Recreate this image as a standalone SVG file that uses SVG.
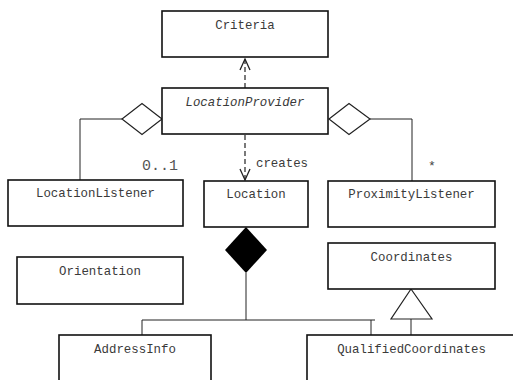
<svg xmlns="http://www.w3.org/2000/svg" width="513" height="380" viewBox="0 0 513 380">
<defs>
<style>
.box{fill:#fff;stroke:#111;stroke-width:1.6}
.t{font-family:"Liberation Mono","Courier New",monospace;font-size:12.4px;fill:#3a3a3a;text-anchor:middle}
.ln{fill:none;stroke:#222;stroke-width:1}
.dash{fill:none;stroke:#222;stroke-width:1.2;stroke-dasharray:5,3}
.open{fill:#fff;stroke:#222;stroke-width:1.2}
</style>
<marker id="arr" markerWidth="14" markerHeight="14" refX="12" refY="6" orient="auto" markerUnits="userSpaceOnUse">
<path d="M1,1 L12,6 L1,11" fill="none" stroke="#222" stroke-width="1.3"/>
</marker>
</defs>
<rect width="513" height="380" fill="#fff"/>
<g id="connectors">
<path class="dash" d="M245,88 V59" marker-end="url(#arr)"/>
<path class="dash" d="M245,135 V180" marker-end="url(#arr)"/>
<path class="ln" d="M122,119 H80 V180"/>
<polygon class="open" points="162,119 142,103.5 122,119 142,134.5"/>
<path class="ln" d="M370,119 H412 V181"/>
<polygon class="open" points="329,119 349,103.5 370,119 349,134.5"/>
<polygon points="246,227 267,250 246,273 225,250" fill="#000"/>
<path class="ln" d="M246,273 V320 M142,320 H375 M142,320 V335 M371,320 V335"/>
<polygon class="open" points="411,289 432,319 391,319"/>
<path class="ln" d="M411,319 V335"/>
<text x="160" y="170" font-family="Liberation Mono,monospace" font-size="15" fill="#555" text-anchor="middle">0..1</text>
<text x="282" y="167" class="t" font-size="12">creates</text>
<text x="432" y="170" font-family="Liberation Mono,monospace" font-size="13" fill="#444" text-anchor="middle">*</text>
</g>
<g id="Criteria"><rect class="box" x="162" y="11" width="166" height="46"/><text class="t" x="245" y="29">Criteria</text></g>
<g id="LocationProvider"><rect class="box" x="162" y="88" width="166" height="46"/><text class="t" x="245" y="106" font-style="italic">LocationProvider</text></g>
<g id="LocationListener"><rect class="box" x="8" y="180" width="175" height="46"/><text class="t" x="95.5" y="197">LocationListener</text></g>
<g id="Location"><rect class="box" x="204" y="181" width="104" height="46"/><text class="t" x="256" y="198">Location</text></g>
<g id="ProximityListener"><rect class="box" x="328" y="181" width="167" height="46"/><text class="t" x="411.5" y="198">ProximityListener</text></g>
<g id="Orientation"><rect class="box" x="17" y="257" width="166" height="47"/><text class="t" x="100" y="275">Orientation</text></g>
<g id="Coordinates"><rect class="box" x="328" y="243" width="167" height="46"/><text class="t" x="411.5" y="261">Coordinates</text></g>
<g id="AddressInfo"><rect class="box" x="59" y="335" width="152" height="60"/><text class="t" x="135" y="353">AddressInfo</text></g>
<g id="QualifiedCoordinates"><rect class="box" x="307" y="335" width="220" height="60"/><text class="t" x="411.5" y="353">QualifiedCoordinates</text></g>
</svg>
